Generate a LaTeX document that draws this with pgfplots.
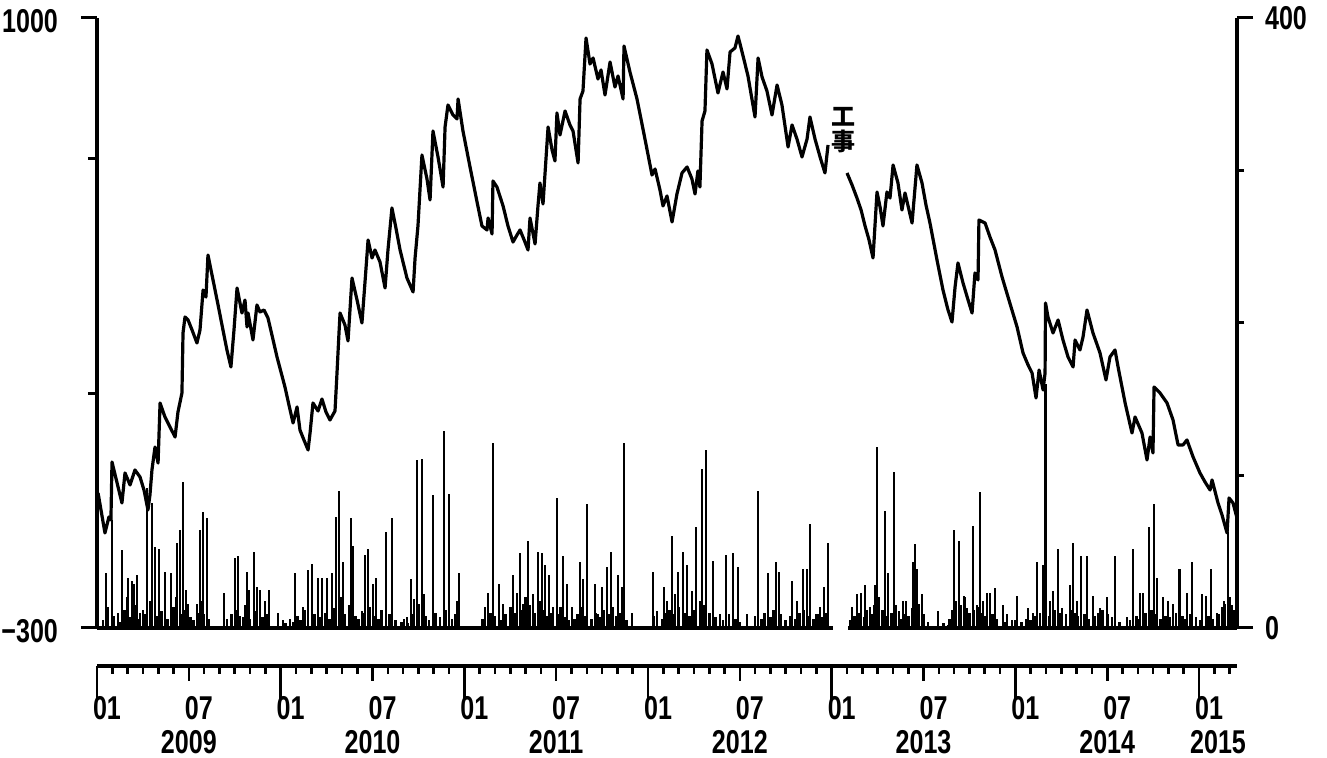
\documentclass[border=0pt]{standalone}
\usepackage{fontspec}
\setmainfont{Liberation Sans}
\newfontfamily\lab{Liberation Sans}[FakeStretch=0.76]
\newfontfamily\cjk{Noto Sans CJK JP}
\usepackage{pgfplots}
\usepackage{pgfplotstable}
\pgfplotsset{compat=1.18}

% cumulative line, left axis (month index 0 = 2009-01)
\pgfplotstableread{
m v
0.07 -12.3
0.52 -97.5
0.78 -63.4
0.91 -69.8
0.98 53.8
1.63 -33.6
1.83 30.4
2.16 4.8
2.48 36.8
2.81 21.8
3.07 -5.9
3.33 -48.5
3.46 -16.5
3.59 36.8
3.79 85.7
3.99 51.6
4.12 179.5
4.44 149.7
4.77 128.4
5.10 107.0
5.29 160.3
5.55 200.8
5.62 328.7
5.75 362.8
5.95 356.4
6.21 335.1
6.53 307.4
6.73 335.1
6.93 420.3
7.12 405.4
7.25 494.9
7.58 441.7
7.91 388.4
8.23 335.1
8.49 292.5
8.75 256.3
8.95 335.1
9.15 424.6
9.47 371.3
9.67 399.0
9.80 341.5
9.87 371.3
10.19 313.8
10.45 388.4
10.65 373.5
10.91 377.7
11.17 360.7
11.43 324.4
11.76 277.6
12.02 245.6
12.28 213.6
12.54 175.3
12.81 136.9
13.07 171.0
13.26 122.0
13.52 100.7
13.79 79.4
13.92 115.6
14.11 179.5
14.44 162.5
14.70 188.0
14.96 160.3
15.22 143.3
15.55 162.5
15.68 243.4
15.81 328.7
15.88 371.3
16.20 345.8
16.40 311.7
16.66 445.9
16.99 399.0
17.31 350.0
17.51 437.4
17.71 526.9
17.97 488.5
18.16 505.6
18.49 480.0
18.82 424.6
19.01 505.6
19.27 595.1
19.53 552.5
19.80 505.6
20.25 445.9
20.65 416.1
20.78 488.5
20.97 556.8
21.23 708.0
21.56 656.9
21.76 612.1
21.95 759.2
22.28 703.8
22.61 639.8
22.74 767.7
22.93 814.6
23.26 793.3
23.52 784.8
23.59 827.4
23.91 759.2
24.37 682.5
24.83 607.9
25.15 556.8
25.48 548.2
25.55 573.8
25.81 539.7
25.87 652.6
26.13 639.8
26.53 599.4
26.85 556.8
27.18 522.6
27.44 537.6
27.64 548.2
27.96 522.6
28.16 505.6
28.29 573.8
28.62 518.4
28.81 599.4
28.94 648.4
29.14 603.6
29.47 767.7
29.73 718.7
29.92 695.3
30.05 797.6
30.25 750.7
30.58 801.8
30.90 772.0
31.10 759.2
31.43 691.0
31.56 827.4
31.75 844.4
31.95 957.4
32.21 902.0
32.41 914.8
32.73 870.0
32.93 889.2
33.19 835.9
33.52 906.2
33.84 852.9
34.04 876.4
34.37 827.4
34.43 940.3
34.82 884.9
35.28 827.4
35.80 742.1
36.26 665.4
36.46 678.2
36.78 633.5
36.98 599.4
37.24 620.7
37.57 565.3
37.89 624.9
38.22 669.7
38.55 682.5
38.87 656.9
39.07 624.9
39.26 674.0
39.39 639.8
39.53 780.5
39.72 801.8
39.85 931.8
40.18 902.0
40.57 840.2
40.90 884.9
41.16 848.7
41.36 927.5
41.68 936.1
41.88 961.6
42.21 919.0
42.53 876.4
42.99 789.0
43.19 914.8
43.45 874.3
43.77 844.4
44.10 793.3
44.43 857.2
44.75 814.6
45.15 725.1
45.41 772.0
45.73 742.1
46.06 703.8
46.39 742.1
46.58 789.0
46.91 742.1
47.24 703.8
47.56 669.7
47.76 729.4
}\lineA

\pgfplotstableread{
m v
49.00 669.7
49.33 644.1
49.65 616.4
49.92 590.8
50.18 556.8
50.44 526.9
50.70 488.5
50.96 629.2
51.16 597.2
51.35 556.8
51.61 629.2
51.81 616.4
52.01 686.7
52.33 648.4
52.59 590.8
52.79 627.1
53.25 563.1
53.57 686.7
53.90 648.4
54.16 601.5
54.42 563.1
54.88 484.3
55.27 420.3
55.60 377.7
55.86 352.1
56.06 426.7
56.25 477.9
56.58 435.3
56.91 399.0
57.17 371.3
57.36 456.6
57.56 441.7
57.62 569.5
58.02 563.1
58.34 533.3
58.67 505.6
59.13 448.0
59.52 405.4
60.11 341.5
60.50 286.1
60.83 260.5
61.09 243.4
61.35 190.2
61.55 249.8
61.81 207.2
61.94 243.4
61.97 392.6
62.13 362.8
62.46 328.7
62.79 356.4
63.11 313.8
63.44 277.6
63.77 256.3
63.90 313.8
64.22 292.5
64.42 320.2
64.68 377.7
65.07 328.7
65.53 286.1
65.92 228.6
66.18 277.6
66.51 292.5
66.71 256.3
67.17 179.5
67.62 115.6
67.82 149.7
68.27 115.6
68.60 58.1
68.80 107.0
68.99 73.0
69.06 213.6
69.45 200.8
69.91 179.5
70.30 143.3
70.63 90.0
70.95 90.0
71.21 100.7
71.61 64.5
72.06 30.4
72.39 11.2
72.72 -5.9
72.85 15.5
73.24 -33.6
73.50 -59.1
73.83 -97.5
73.96 -22.9
74.22 -33.6
74.48 -65.6
}\lineB

% bars, right axis
\pgfplotstableread{
m b
0.59 36
0.72 14
0.98 71
1.37 10
1.63 51
1.96 20
2.03 33
2.29 31
2.42 29
2.61 35
2.81 10
3.01 12
3.27 92
3.59 82
3.79 53
4.05 52
4.44 37
4.83 36
5.23 56
5.42 64
5.62 96
5.81 25
5.95 16
6.53 16
6.73 64
6.93 76
7.19 72
8.30 23
9.02 46
9.21 47
9.54 7
9.80 37
9.93 25
10.26 50
10.45 27
10.65 25
10.98 18
11.24 25
11.83 10
12.15 5
12.61 6
12.94 36
13.46 14
13.79 38
14.05 42
14.44 33
14.70 33
15.03 33
15.35 36
15.61 73
15.81 90
16.07 43
16.59 72
16.73 54
17.31 11
17.51 48
17.71 52
18.03 29
18.23 33
18.88 63
19.27 72
20.06 6
20.25 7
20.51 32
20.71 19
20.91 110
21.23 111
21.36 22
21.95 87
22.67 129
23.00 88
23.52 18
23.65 36
25.35 14
25.55 23
25.87 121
26.26 29
26.53 16
27.18 35
27.44 23
27.64 49
27.83 16
28.16 57
28.49 22
28.81 50
29.07 49
29.27 41
29.53 35
29.79 14
30.05 85
30.45 47
30.71 29
31.03 14
31.56 43
31.75 32
32.01 81
32.54 29
32.73 9
32.99 27
33.32 40
33.58 50
34.04 35
34.30 27
34.43 121
34.95 10
36.33 37
36.59 11
37.04 27
37.24 18
37.57 60
37.76 22
37.96 37
38.29 50
38.55 41
38.87 24
39.13 66
39.53 104
39.79 117
40.25 44
40.70 9
41.10 48
41.55 49
41.88 40
42.47 9
43.19 90
43.84 36
44.36 43
44.56 37
45.41 31
45.73 18
46.13 39
46.39 39
46.58 68
46.97 9
47.24 14
47.50 27
47.76 56
49.33 14
49.65 22
49.92 23
50.18 28
50.50 14
50.83 28
50.96 119
51.48 77
51.68 36
52.07 102
52.40 11
52.66 18
52.86 18
53.25 13
53.31 43
53.44 55
53.57 39
53.90 22
54.95 11
55.60 2
55.99 64
56.32 57
56.64 21
56.84 13
57.23 67
57.49 15
57.69 89
57.89 18
58.15 23
58.34 23
58.67 26
59.19 15
59.45 9
59.78 5
60.11 21
60.83 13
61.15 10
61.41 43
61.81 41
61.97 160
62.26 18
62.46 24
62.79 52
63.05 13
63.57 28
63.77 56
64.03 18
64.29 47
64.68 47
65.07 21
65.53 13
65.99 20
66.51 47
67.29 7
67.69 52
68.14 23
68.34 23
68.73 66
69.06 81
69.25 33
69.65 20
69.97 18
70.30 16
70.70 39
71.21 23
71.54 43
72.19 22
72.45 21
72.78 39
73.17 10
73.63 18
73.89 63
74.15 15
}\bars

% small bars near the base
\pgfplotstableread{
m b
0.4 5
1.1 8
1.5 4
1.8 12
2.2 7
2.5 15
2.7 6
3.1 9
3.5 18
3.9 8
4.2 11
4.6 6
5.0 14
5.2 20
5.5 9
5.7 12
6.1 7
6.3 5
6.6 10
6.8 18
7.0 9
7.3 6
8.5 6
8.8 9
9.1 12
9.3 8
9.7 15
10.0 6
10.3 11
10.8 7
11.1 9
12.3 3
12.8 4
13.1 8
13.3 5
13.6 12
14.2 9
14.6 7
14.9 10
15.2 6
15.5 13
15.9 20
16.2 9
16.5 15
16.9 8
17.1 6
17.4 10
17.8 14
18.1 8
18.4 6
18.6 12
19.1 9
19.5 5
19.9 4
20.3 3
20.6 9
21.0 16
21.5 8
21.7 5
22.1 10
22.4 7
22.8 12
23.2 6
23.4 9
25.2 6
25.7 10
26.0 8
26.4 5
26.7 9
27.0 14
27.3 10
27.7 12
28.0 20
28.3 15
28.6 10
28.9 18
29.2 12
29.4 8
29.7 10
30.1 9
30.3 14
30.6 7
30.8 5
31.2 6
31.4 9
31.7 14
31.9 8
32.3 6
32.6 10
32.9 7
33.1 12
33.4 9
33.7 14
33.9 8
34.2 10
34.6 5
36.4 8
36.9 6
37.1 10
37.4 12
37.7 9
38.0 14
38.4 10
38.7 8
39.0 12
39.4 18
39.7 15
40.0 10
40.4 7
40.9 5
41.3 9
41.7 6
42.0 4
43.0 8
43.4 6
43.6 10
44.0 7
44.2 12
44.7 9
45.0 5
45.3 8
45.6 6
45.9 10
46.2 12
46.5 8
46.8 6
47.1 9
47.4 7
47.65 10
49.2 5
49.5 8
49.8 10
50.1 7
50.3 12
50.6 9
50.8 15
51.1 20
51.3 12
51.6 8
51.9 10
52.2 15
52.5 6
52.7 9
53.0 8
53.4 20
53.7 16
54.0 9
54.3 4
55.3 3
55.7 6
55.9 12
56.1 18
56.4 15
56.7 20
57.0 10
57.3 12
57.6 14
57.8 10
58.0 8
58.5 9
58.8 6
59.3 4
60.0 5
60.4 4
60.7 6
61.0 5
61.3 8
61.6 10
62.2 8
62.6 12
62.9 10
63.3 9
63.6 12
63.9 10
64.1 8
64.5 9
64.8 6
65.2 8
65.4 10
65.7 12
66.0 9
66.3 7
66.8 4
67.5 5
67.9 8
68.0 6
68.5 10
68.9 12
69.2 9
69.5 6
69.8 8
70.1 7
70.5 10
70.9 8
71.1 6
71.4 9
71.8 7
72.1 5
72.6 8
72.9 6
73.3 9
73.5 14
73.7 16
74.0 20
74.3 12
}\smallbars

\begin{document}
\begin{tikzpicture}
\path[use as bounding box] (-48.5pt,-65pt) rectangle (615pt,314pt);
\pgfplotsset{
  base/.style={scale only axis, width=570pt, height=305pt,
    at={(0pt,0pt)}, anchor=south west, xmin=0, xmax=74.48,
    axis x line=none, tick align=outside, clip=false,
    axis line style={line width=1.7pt,-},
    every tick/.style={black,line width=1.5pt},
    major tick length=8pt,
    yticklabel style={font=\lab\bfseries\fontsize{16.5}{16.5}\selectfont}}
}
% left axis: cumulative line
\begin{axis}[base, ymin=-300, ymax=1000,
  axis y line*=left,
  ytick={-300,1000}, yticklabels={−300,1000},
  extra y ticks={200,700}, extra y tick labels={},
  extra y tick style={major tick length=4.5pt},
  yticklabel style={anchor=east, xshift=-8pt, yshift=-1.5pt}]
\addplot[black, line width=1.6pt, line join=round] table[x=m,y=v] {\lineA};
\addplot[black, line width=1.6pt, line join=round] table[x=m,y=v] {\lineB};
\node[font=\cjk\bfseries\fontsize{12}{12.5}\selectfont, align=center, inner sep=0pt]
  at (axis cs:48.74,761) {工\\事};
\end{axis}
% right axis: bars
\begin{axis}[base, ymin=0, ymax=400,
  axis y line*=right,
  ytick={0,400}, yticklabels={0,400},
  extra y ticks={100,200,300}, extra y tick labels={},
  extra y tick style={major tick length=3.5pt},
  yticklabel style={anchor=west, xshift=2.5pt}]
\addplot[black, ycomb, line width=1.4pt, mark=none] table[x=m,y=b] {\bars};
\addplot[black, ycomb, line width=1.3pt, mark=none] table[x=m,y=b] {\smallbars};
\addplot[black, line width=1.7pt] coordinates {(0,0) (48.09,0)};
\addplot[black, line width=1.7pt] coordinates {(49.07,0) (74.48,0)};
\end{axis}
% date axis
\begin{axis}[scale only axis, width=570pt, height=10pt,
  at={(0pt,-19pt)}, anchor=south west, xmin=0, xmax=74.48, ymin=0, ymax=1,
  axis y line=none, axis x line*=bottom, clip=false,
  axis line style={line width=2pt,-}, tick align=outside,
  every tick/.style={black,line width=1.3pt},
  xtick={0,12,24,36,48,60,72}, xticklabels={},
  major tick length=17pt,
  extra x ticks={6,18,30,42,54,66}, extra x tick labels={},
  extra x tick style={major tick length=7.5pt},
  minor xtick={1,2,3,4,5,7,8,9,10,11,13,14,15,16,17,19,20,21,22,23,25,26,27,28,29,31,32,33,34,35,37,38,39,40,41,43,44,45,46,47,49,50,51,52,53,55,56,57,58,59,61,62,63,64,65,67,68,69,70,71,73,74},
  minor tick length=4pt]
\addplot[draw=none] coordinates {(0,0) (74,0)};
\foreach \k/\t in {0/01,6/07,12/01,18/07,24/01,30/07,36/01,42/07,48/01,54/07,60/01,66/07,72/01}{
  \edef\tmp{\noexpand\node[font=\noexpand\lab\noexpand\bfseries\noexpand\fontsize{16.5}{16.5}\noexpand\selectfont, anchor=center, inner sep=0pt] at (axis cs:\k,0) [xshift=5pt, yshift=-21pt] {\t};}
  \tmp
}
\foreach \k/\t in {6/2009,18/2010,30/2011,42/2012,54/2013,66/2014,73.24/2015}{
  \edef\tmp{\noexpand\node[font=\noexpand\lab\noexpand\bfseries\noexpand\fontsize{16.5}{16.5}\noexpand\selectfont, anchor=center, inner sep=0pt] at (axis cs:\k,0) [yshift=-38pt] {\t};}
  \tmp
}
\end{axis}
\end{tikzpicture}
\end{document}
